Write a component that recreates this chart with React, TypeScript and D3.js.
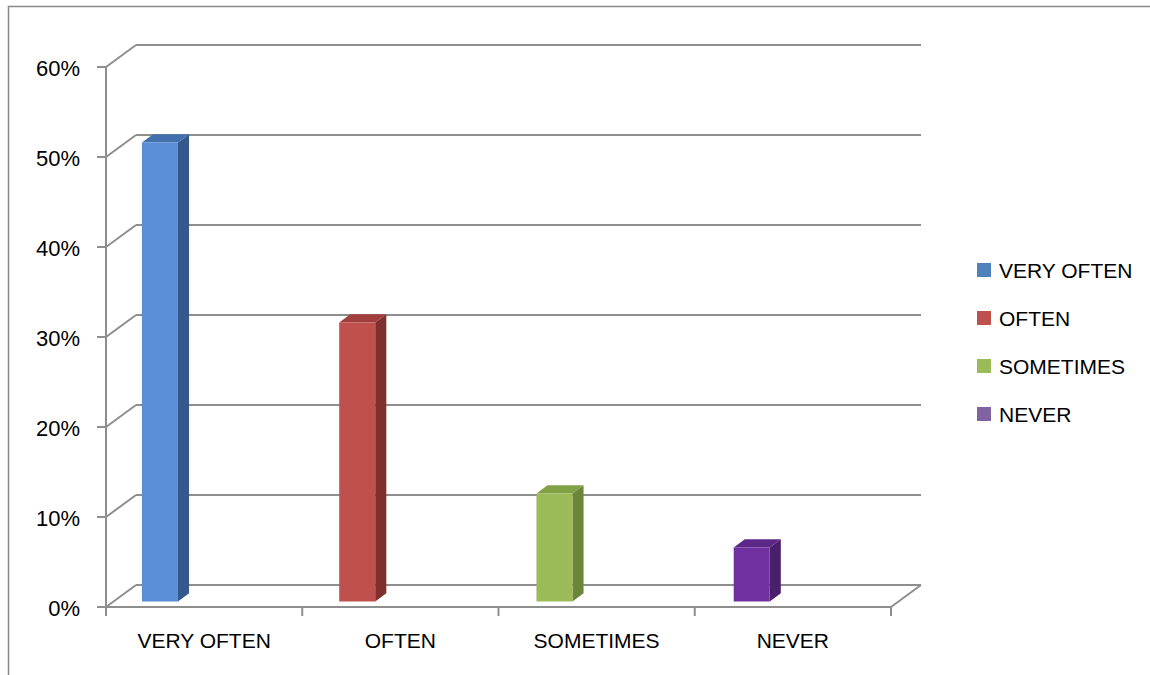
import React from "react";
import * as d3 from "d3";

const categories = ["VERY OFTEN", "OFTEN", "SOMETIMES", "NEVER"];
const values = [0.51, 0.31, 0.12, 0.06];
const yTicks = [0, 0.1, 0.2, 0.3, 0.4, 0.5, 0.6];
const frontColors = ["#5A8ED6", "#C0504D", "#9BBB59", "#7030A0"];
const sideColors = ["#35598A", "#7E302E", "#6B8539", "#4A1F6B"];
const topColors = ["#426FAE", "#A23F3C", "#80A144", "#5C2888"];
const legendColors = ["#4F81BD", "#C0504D", "#9BBB59", "#8064A2"];

const W = 1150;
const H = 675;
const DX = 30;
const DY = -22;
const FONT = "'Liberation Sans', Arial, sans-serif";
const GRID = "#8E8E8E";

export default function App() {
  const y = d3.scaleLinear().domain([0, 0.6]).range([607, 67]);
  const x = d3.scaleBand<string>().domain(categories).range([106, 891]).padding(0);
  const bw = x.bandwidth();
  const fmt = d3.format(".0%");
  const f1 = 0.25;
  const f2 = 0.62;
  const P = (px: number, py: number, f: number): [number, number] => [px + DX * f, py + DY * f];
  const poly = (pts: [number, number][]) => pts.map((p) => p.join(",")).join(" ");
  const x0 = x.range()[0];
  const x1 = x.range()[1];

  return (
    <svg width={W} height={H} style={{ position: "absolute", left: 0, top: 0, background: "#fff" }}>
      {/* chart border */}
      <path d={`M8.5,${H} L8.5,6.5 L${W},6.5`} fill="none" stroke="#888" strokeWidth={1.5} />

      {/* back wall gridlines and side diagonals */}
      {yTicks.map((t) => {
        const yf = y(t);
        const [bx, by] = P(x0, yf, 1);
        const [ex, ey] = P(x1, yf, 1);
        return (
          <g key={t}>
            <line x1={x0} y1={yf} x2={bx} y2={by} stroke={GRID} strokeWidth={2} />
            <line x1={bx} y1={by} x2={ex} y2={ey} stroke={GRID} strokeWidth={2} />
            <line x1={x0 - 9} y1={yf} x2={x0} y2={yf} stroke={GRID} strokeWidth={2} />
            <text
              x={80}
              y={yf + 9}
              textAnchor="end"
              fontFamily={FONT}
              fontSize={22}
              fill="#000"
            >
              {fmt(t)}
            </text>
          </g>
        );
      })}

      {/* floor front edge and right diagonal */}
      <line x1={x0} y1={y(0)} x2={x1} y2={y(0)} stroke={GRID} strokeWidth={2} />
      <line x1={x1} y1={y(0)} x2={P(x1, y(0), 1)[0]} y2={P(x1, y(0), 1)[1]} stroke={GRID} strokeWidth={2} />
      {/* front y-axis */}
      <line x1={x0} y1={y(0.6)} x2={x0} y2={y(0)} stroke={GRID} strokeWidth={2} />

      {/* category ticks */}
      {[...categories.map((c) => x(c) as number), x1].map((tx, i) => (
        <line key={i} x1={tx} y1={y(0)} x2={tx} y2={y(0) + 9} stroke={GRID} strokeWidth={2} />
      ))}

      {/* bars */}
      {categories.map((c, i) => {
        const left = (x(c) as number) + bw * 0.145 + i * 1;
        const right = left + 36;
        const yb = y(0);
        const yt = y(values[i]);
        const fBL = P(left, yb, f1);
        const fBR = P(right, yb, f1);
        const fTL = P(left, yt, f1);
        const fTR = P(right, yt, f1);
        const bTL = P(left, yt, f2);
        const bTR = P(right, yt, f2);
        const bBR = P(right, yb, f2);
        return (
          <g key={c}>
            <polygon points={poly([fBR, fTR, bTR, bBR])} fill={sideColors[i]} />
            <polygon points={poly([fTL, fTR, bTR, bTL])} fill={topColors[i]} />
            <polygon points={poly([fBL, fBR, fTR, fTL])} fill={frontColors[i]} />
          </g>
        );
      })}

      {/* category labels */}
      {categories.map((c) => (
        <text
          key={c}
          x={(x(c) as number) + bw / 2}
          y={648}
          textAnchor="middle"
          fontFamily={FONT}
          fontSize={21}
          fill="#000"
        >
          {c}
        </text>
      ))}

      {/* legend */}
      {categories.map((c, i) => (
        <g key={c} transform={`translate(977, ${263 + i * 48})`}>
          <rect x={0} y={0} width={14} height={14} fill={legendColors[i]} />
          <text x={22} y={15} fontFamily={FONT} fontSize={21} fill="#000">
            {c}
          </text>
        </g>
      ))}
    </svg>
  );
}
